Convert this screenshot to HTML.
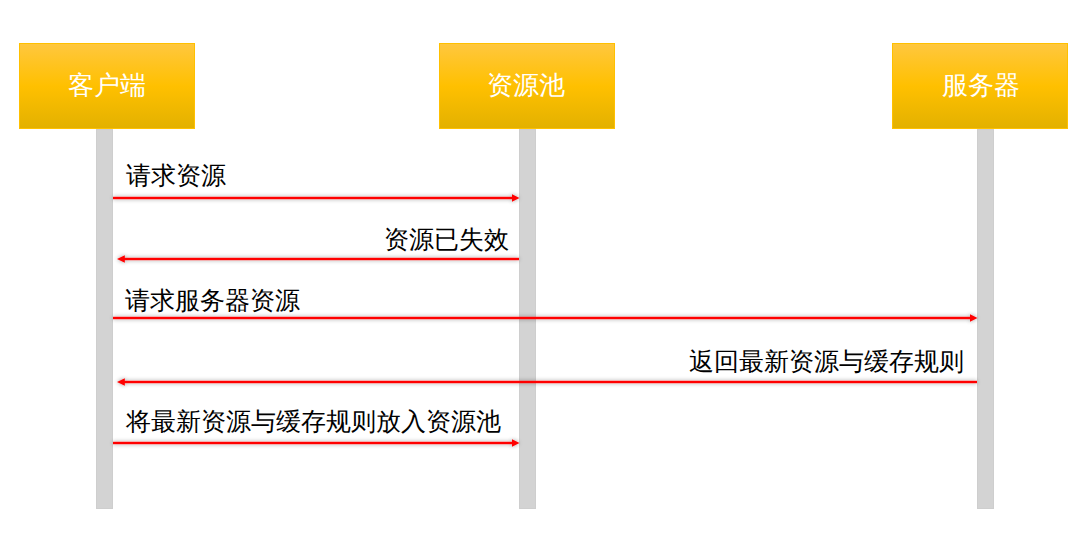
<!DOCTYPE html>
<html><head><meta charset="utf-8">
<style>
html,body{margin:0;padding:0;background:#fff;}
body{width:1091px;height:560px;position:relative;overflow:hidden;font-family:"Liberation Sans",sans-serif;}
.box{position:absolute;top:43px;width:174px;height:84px;border:1px solid #FFC000;
 background:linear-gradient(to bottom,#FFC73E 0%,#FFC000 50%,#E3B100 100%);}
.bt{position:absolute;left:0;top:0;width:176px;height:86px;color:#fff;font-size:25px;line-height:86px;text-align:center;}
.life{position:absolute;top:129px;height:378px;width:15px;background:#D3D3D3;border:1px solid #CECECE;}
.t{position:absolute;font-size:25px;line-height:30px;color:#000;white-space:nowrap;}
.t.h{color:#fff;font-size:26px;}
svg{position:absolute;left:0;top:0;}
</style></head><body>
<div class="life" style="left:96px"></div>
<div class="life" style="left:519px"></div>
<div class="life" style="left:977px"></div>
<div class="box" style="left:19px"></div>
<div class="box" style="left:439px"></div>
<div class="box" style="left:892px"></div>
<div class="t h" style="left:67.5px;top:70px">客户端</div>
<div class="t h" style="left:487px;top:70px">资源池</div>
<div class="t h" style="left:941.5px;top:70px">服务器</div>

<div class="t" style="left:126px;top:160px">请求资源</div>
<div class="t" style="left:383.5px;top:224px">资源已失效</div>
<div class="t" style="left:125px;top:285px">请求服务器资源</div>
<div class="t" style="left:689px;top:346px">返回最新资源与缓存规则</div>
<div class="t" style="left:126px;top:406px">将最新资源与缓存规则放入资源池</div>

<svg width="1091" height="560">
<defs>
<filter id="sh" x="-5%" y="-200%" width="110%" height="500%">
<feGaussianBlur in="SourceAlpha" stdDeviation="2.3"/>
<feOffset dy="0" result="b"/>
<feComponentTransfer><feFuncA type="linear" slope="0.4"/></feComponentTransfer>
<feMerge><feMergeNode/><feMergeNode in="SourceGraphic"/></feMerge>
</filter>
</defs>
<g fill="#FF0000" filter="url(#sh)">
<rect x="113" y="196.8" width="400" height="2.4"/><path d="M512 194.2 L519.5 198 L512 201.8 Z"/>
<rect x="124" y="257.8" width="395" height="2.4"/><path d="M124.8 255.2 L117 259 L124.8 262.8 Z"/>
<rect x="113" y="316.8" width="858" height="2.4"/><path d="M970 314.2 L977.5 318 L970 321.8 Z"/>
<rect x="124" y="380.8" width="853" height="2.4"/><path d="M124.8 378.2 L117 382 L124.8 385.8 Z"/>
<rect x="113" y="441.8" width="400" height="2.4"/><path d="M512 439.2 L519.5 443 L512 446.8 Z"/>
</g>
</svg>
</body></html>
